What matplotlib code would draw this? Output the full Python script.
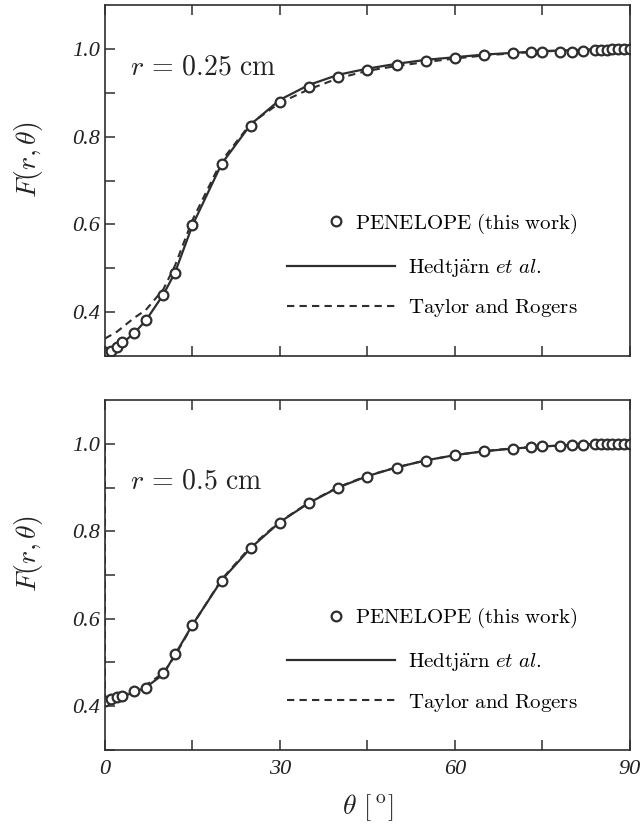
import numpy as np
import matplotlib
matplotlib.use('Agg')
import matplotlib.pyplot as plt
from matplotlib.ticker import MultipleLocator, FixedLocator, FixedFormatter

plt.rcParams['mathtext.fontset'] = 'cm'
plt.rcParams['font.family'] = 'serif'
plt.rcParams['font.serif'] = ['Liberation Serif', 'DejaVu Serif']

# ===== r = 0.25 cm =====
th_pen_1 = [0, 1, 2, 3, 5, 7, 10, 12, 15, 20, 25, 30, 35, 40, 45, 50, 55, 60, 65, 70,
            73, 75, 78, 80, 82, 84, 85, 86, 87, 88, 89, 90]
f_pen_1 = [0.310, 0.312, 0.321, 0.331, 0.353, 0.382, 0.440, 0.490, 0.598, 0.737, 0.825,
           0.880, 0.913, 0.937, 0.952, 0.963, 0.973, 0.979, 0.986, 0.990,
           0.992, 0.993, 0.993, 0.994, 0.995, 0.997, 0.998, 0.998, 0.999, 0.999, 1.000, 1.000]
th_hed_1 = [0, 1, 2, 3, 5, 7, 10, 12, 15, 20, 25, 30, 35, 40, 45, 50, 55, 60, 65, 70, 75, 80, 85, 90]
f_hed_1 = [0.308, 0.313, 0.320, 0.330, 0.352, 0.381, 0.440, 0.490, 0.598, 0.738, 0.828,
           0.884, 0.918, 0.941, 0.955, 0.966, 0.975, 0.981, 0.987, 0.991, 0.995, 0.997, 0.999, 1.000]
th_tay_1 = [0, 2, 5, 7, 10, 12, 15, 20, 25, 30, 35, 40, 45, 50, 55, 60, 65, 70, 75, 80, 85, 90]
f_tay_1 = [0.340, 0.355, 0.387, 0.405, 0.452, 0.506, 0.610, 0.745, 0.830, 0.877, 0.908,
           0.933, 0.950, 0.961, 0.970, 0.978, 0.985, 0.990, 0.994, 0.997, 0.999, 1.000]

# ===== r = 0.5 cm =====
th_pen_2 = [0, 1, 2, 3, 5, 7, 10, 12, 15, 20, 25, 30, 35, 40, 45, 50, 55, 60, 65, 70,
            73, 75, 78, 80, 82, 84, 85, 86, 87, 88, 89, 90]
f_pen_2 = [0.412, 0.416, 0.420, 0.423, 0.435, 0.442, 0.477, 0.520, 0.586, 0.687, 0.762,
           0.820, 0.864, 0.899, 0.925, 0.945, 0.961, 0.974, 0.984, 0.987,
           0.992, 0.994, 0.994, 0.998, 0.998, 0.999, 0.999, 1.000, 1.000, 1.000, 1.000, 1.000]
th_hed_2 = [0, 1, 2, 3, 5, 7, 10, 12, 15, 20, 25, 30, 35, 40, 45, 50, 55, 60, 65, 70, 75, 80, 85, 90]
f_hed_2 = [0.405, 0.413, 0.418, 0.422, 0.432, 0.443, 0.473, 0.518, 0.586, 0.688, 0.762,
           0.821, 0.865, 0.900, 0.926, 0.946, 0.962, 0.974, 0.983, 0.989, 0.994, 0.997, 0.999, 1.000]
th_tay_2 = [0, 0, 1, 2, 3, 5, 7, 10, 12, 15, 20, 25, 30, 35, 40, 45, 50, 55, 60, 65, 70, 75, 80, 85, 90]
f_tay_2 = [1.000, 0.410, 0.415, 0.420, 0.425, 0.436, 0.448, 0.476, 0.515, 0.585, 0.690, 0.765,
           0.822, 0.866, 0.901, 0.927, 0.946, 0.962, 0.974, 0.983, 0.990, 0.994, 0.997, 0.999, 1.000]

radios = [r'$r\,=\,0.25\ \mathrm{cm}$', r'$r\,=\,0.5\ \mathrm{cm}$']
dados = [(th_pen_1, f_pen_1, th_hed_1, f_hed_1, th_tay_1, f_tay_1),
         (th_pen_2, f_pen_2, th_hed_2, f_hed_2, th_tay_2, f_tay_2)]

cor = '#2e2e2e'
fig = plt.figure(figsize=(6.44, 8.32), dpi=100)
eixos = [fig.add_axes([0.163, 0.572, 0.815, 0.422]),
         fig.add_axes([0.163, 0.0986, 0.815, 0.4206])]

for ii, ax in enumerate(eixos):
    tp, fp, th, fh, tt, ft = dados[ii]
    lh, = ax.plot(th, fh, '-', color=cor, lw=1.6, label=r'$\mathrm{Hedtj\ddot{a}rn}\ \mathit{et\ al.}$')
    lt, = ax.plot(tt, ft, '--', color=cor, lw=1.5, dashes=(3.5, 2.5), label=r'$\mathrm{Taylor\ and\ Rogers}$')
    lp, = ax.plot(tp, fp, 'o', mfc='white', mec=cor, mew=1.6, ms=7, ls='none',
                  label=r'$\mathrm{PENELOPE\ (this\ work)}$')
    ax.set_xlim(0, 90)
    ax.set_ylim(0.3, 1.1)
    ax.xaxis.set_major_locator(MultipleLocator(15))
    ax.yaxis.set_major_locator(FixedLocator([0.4, 0.6, 0.8, 1.0]))
    ax.yaxis.set_minor_locator(FixedLocator([0.3, 0.5, 0.7, 0.9]))
    ax.yaxis.set_major_formatter(FixedFormatter(['0.4', '0.6', '0.8', '1.0']))
    ax.tick_params(which='both', direction='in', length=7, width=1.1, color=cor,
                   top=True, right=False, labelsize=16, labelcolor='#222222')
    ax.tick_params(axis='x', pad=7)
    for lab in ax.get_yticklabels():
        lab.set_fontstyle('italic')
    for sp in ax.spines.values():
        sp.set_color(cor)
        sp.set_linewidth(1.2)
    ax.set_ylabel(r'$F(r,\theta)$', fontsize=20, color='#222222')
    ax.yaxis.set_label_coords(-0.115, 0.56)
    ax.text(0.048, 0.82 if ii == 0 else 0.766, radios[ii], transform=ax.transAxes,
            fontsize=20, va='center', ha='left', color='#222222')

    leg1 = ax.legend(handles=[lp], loc='center right', bbox_to_anchor=(0.9, 0.377),
                     frameon=False, fontsize=15, handlelength=0.8, handletextpad=0.5,
                     borderpad=0, borderaxespad=0)
    ax.add_artist(leg1)
    ax.legend(handles=[lh, lt], loc='center right', bbox_to_anchor=(0.9, 0.193),
              frameon=False, fontsize=15, handlelength=5.2, handletextpad=0.6,
              labelspacing=0.88, borderpad=0, borderaxespad=0)

eixos[0].set_xticklabels([])
eixos[1].set_xticks([0, 15, 30, 45, 60, 75, 90])
eixos[1].set_xticklabels(['0', '', '30', '', '60', '', '90'], fontstyle='italic')
eixos[1].set_xlabel(r'$\theta\ \left[\,^{\mathrm{o}}_{\,}\right]$', fontsize=20, color='#222222', labelpad=10)

fig.savefig('out.png', dpi=100, facecolor='w')
